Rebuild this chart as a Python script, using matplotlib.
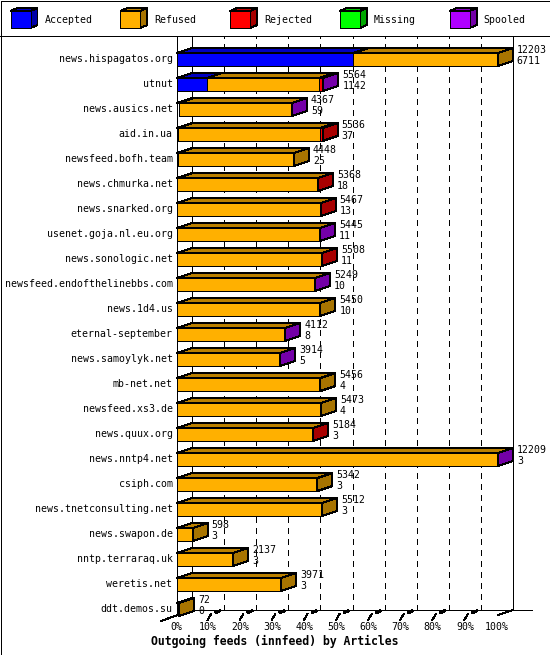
import matplotlib
matplotlib.use('Agg')
import matplotlib.pyplot as plt
from matplotlib.patches import Polygon, Rectangle
from matplotlib.transforms import ScaledTranslation

feeds = ['news.hispagatos.org', 'utnut', 'news.ausics.net', 'aid.in.ua', 'newsfeed.bofh.team',
         'news.chmurka.net', 'news.snarked.org', 'usenet.goja.nl.eu.org', 'news.sonologic.net',
         'newsfeed.endofthelinebbs.com', 'news.1d4.us', 'eternal-september', 'news.samoylyk.net',
         'mb-net.net', 'newsfeed.xs3.de', 'news.quux.org', 'news.nntp4.net', 'csiph.com',
         'news.tnetconsulting.net', 'news.swapon.de', 'nntp.terraraq.uk', 'weretis.net', 'ddt.demos.su']
totals = [12203, 5564, 4367, 5536, 4448, 5368, 5467, 5445, 5508, 5249, 5450, 4112, 3914,
          5456, 5473, 5184, 12209, 5342, 5512, 598, 2137, 3971, 72]
accepted = [6711, 1142, 59, 37, 25, 18, 13, 11, 11, 10, 10, 8, 5, 4, 4, 3, 3, 3, 3, 3, 3, 3, 0]
rejected = [0, 160, 0, 80, 0, 8, 6, 0, 6, 0, 0, 0, 0, 0, 0, 6, 0, 0, 0, 0, 0, 0, 0]
spooled = [0, 6, 6, 0, 0, 0, 0, 6, 0, 6, 0, 6, 6, 0, 0, 0, 6, 0, 0, 0, 0, 0, 0]
max_articles = 12209

legend_names = ['Accepted', 'Refused', 'Rejected', 'Missing', 'Spooled']
face_colors = ['#0000ff', '#ffb000', '#ff0000', '#00ff00', '#b000ff']
side_colors = ['#0000a8', '#a87400', '#a80000', '#00a800', '#7400a8']
top_colors = ['#0000c0', '#bb8000', '#c00000', '#00c000', '#8400c0']
pct_ticks = list(range(0, 101, 10))

W, H = 550, 655
DX, DY = 15, 5
LW = 0.72  # one pixel at dpi 100

plt.rcParams['font.family'] = 'DejaVu Sans Mono'
plt.rcParams['lines.scale_dashes'] = False

fig = plt.figure(figsize=(W / 100, H / 100), dpi=100)

# page coordinates in pixels, y downwards
page = fig.add_axes([0, 0, 1, 1])
page.set_xlim(0, W)
page.set_ylim(H, 0)
page.axis('off')

# plot axes: x is percent of the largest feed, y is row number
X0, X1, Y_TOP, Y_BOT = 177, 498, 41, 615
ax = fig.add_axes([X0 / W, 1 - Y_BOT / H, (X1 - X0) / W, (Y_BOT - Y_TOP) / H])
ax.set_xlim(0, 100)
ax.set_ylim((Y_BOT - 59) / 25, (Y_TOP - 59) / 25)
ax.axis('off')
back = ax.transData + ScaledTranslation(DX / 100, DY / 100, fig.dpi_scale_trans)
px = 100 / (X1 - X0)
dx = DX * px
dy = DY / 25


def poly(pts, color, z=3):
    ax.add_patch(Polygon(pts, closed=True, facecolor=color, edgecolor='black', lw=LW, antialiased=False,
                         clip_on=False, zorder=z))


def line(xs, ys, trans=None, z=2, lw=LW, **kw):
    ax.plot(xs, ys, color='black', lw=lw, antialiased=False, clip_on=False, transform=trans or ax.transData,
            zorder=z, **kw)


ymin, ymax = ax.get_ylim()
# walls and grid
line([0, 0], [ymin, ymax - dy])
line([0, 0], [ymin, ymax], back)
line([100, 100], [ymin, ymax], back)
for p in pct_ticks[1:-1]:
    line([p, p], [ymin, ymax], back, linestyle=(0, (4.3, 3.6)))
line([0, 100 + 19 * px], [ymin, ymin], back)

# floor: broken ticks between the front edge and the back wall
for p in pct_ticks[1:-1]:
    line([p - 1.5 * px, p + 2 * px], [ymin + 5 / 25, ymin - 1 / 25])
    line([p + 7 * px, p + 10.5 * px], [ymin - 2.5 / 25, ymin - 4 / 25], lw=1.5)
line([-16 * px, dx], [ymin + 6 / 25, ymin - dy])
line([100, 100 + dx], [ymin, ymin - dy])
for p in pct_ticks:
    ax.text(p - 1 * px, ymin + 12 / 25, f'{p}%', ha='center', va='center', fontsize=7.15, clip_on=False)

# bars
for i in range(len(feeds)):
    refused = totals[i] - accepted[i] - rejected[i] - spooled[i]
    parts = [accepted[i], refused, rejected[i], 0, spooled[i]]
    y0, y1 = i - 6 / 25, i + 7 / 25
    start = 0
    last = 1
    for j, val in enumerate(parts):
        if val <= 0:
            continue
        a, b = start, start + val / max_articles * 100
        poly([(a, y0), (b, y0), (b + dx, y0 - dy), (a + dx, y0 - dy)], top_colors[j])
        if (b - a) / px >= 2:
            poly([(a, y0), (b, y0), (b, y1), (a, y1)], face_colors[j], z=4)
        start = b
        last = j
    poly([(start, y0), (start + dx, y0 - dy), (start + dx, y1 - dy), (start, y1)], side_colors[last], z=4)
    lx = start + dx + 4 * px
    ax.text(lx, i - 9 / 25, str(totals[i]), va='center', fontsize=7.15, clip_on=False, zorder=6)
    ax.text(lx, i + 2 / 25, str(accepted[i]), va='center', fontsize=7.15, clip_on=False, zorder=6)
    page.text(172.5, 59 + 25 * i, feeds[i], ha='right', va='center', fontsize=7.15)

# legend
for k, name in enumerate(legend_names):
    x = 10.5 + 109.8 * k
    page.add_patch(Polygon([(x, 11), (x + 7, 8), (x + 27, 8), (x + 20, 11)], facecolor=top_colors[k],
                           edgecolor='black', lw=LW, antialiased=False))
    page.add_patch(Polygon([(x + 20, 11), (x + 27, 8), (x + 27, 25), (x + 20, 28)], facecolor=side_colors[k],
                           edgecolor='black', lw=LW, antialiased=False))
    page.add_patch(Rectangle((x, 11), 20, 17, facecolor=face_colors[k], edgecolor='black', lw=LW,
                             antialiased=False))
    page.text(x + 34, 20, name, va='center', fontsize=7.15)

# outer frame
page.add_patch(Rectangle((0.5, 0.5), W - 1, H - 1, fill=False, edgecolor='black', lw=LW, antialiased=False))
page.plot([0, W], [35.5, 35.5], color='black', lw=LW, antialiased=False)
page.text(274.5, 641.5, 'Outgoing feeds (innfeed) by Articles', ha='center', va='center', fontsize=8.3,
          fontweight='bold')

fig.savefig('out.png', dpi=100)
